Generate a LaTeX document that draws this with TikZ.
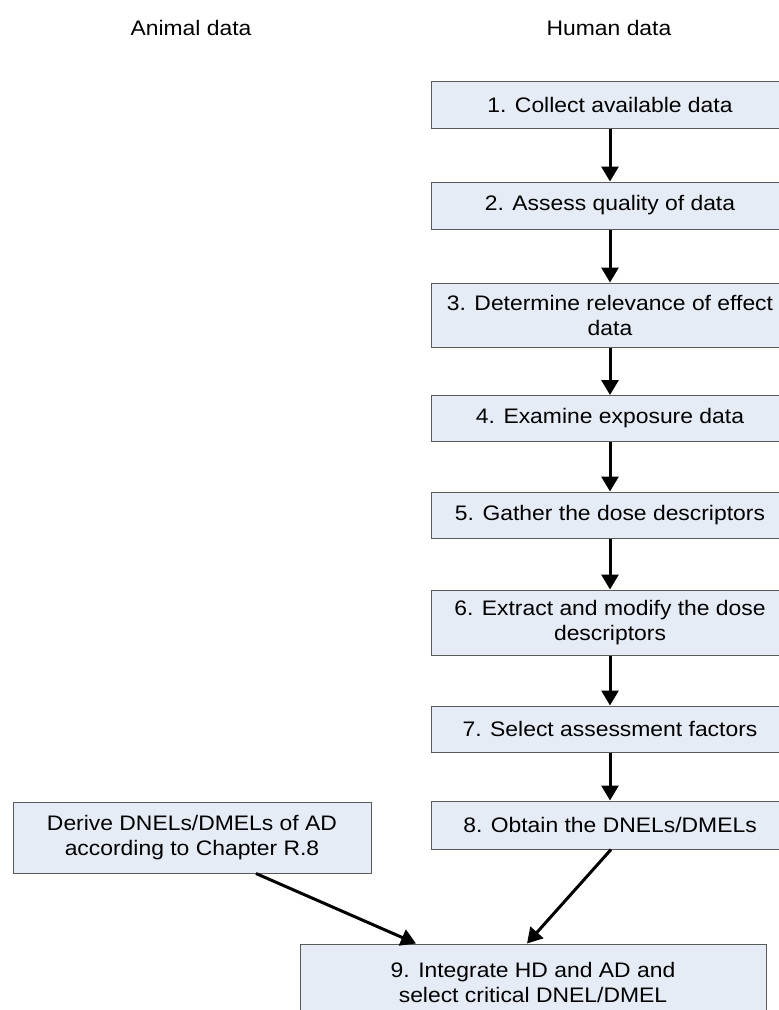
\documentclass[tikz,border=0pt]{standalone}
\usepackage{fontspec}
\setmainfont{Liberation Sans}[FakeStretch=1.09]
\usetikzlibrary{arrows.meta}
\definecolor{boxfill}{RGB}{230,236,246}
\definecolor{boxline}{RGB}{90,90,90}
\begin{document}
\begin{tikzpicture}[x=1pt,y=-1pt,
  box/.style={draw=boxline, fill=boxfill, line width=1pt, inner sep=0pt, align=center,
    font=\fontsize{21}{25}\selectfont},
  hbox/.style={box, minimum width=358pt},
  flow/.style={line width=3pt, -{Triangle[length=15pt,width=17pt]}},
  head/.style={font=\fontsize{21}{25}\selectfont}]
\useasboundingbox (0,0) rectangle (779,1010);
\fill[white] (0,0) rectangle (779,1010);
\node[head] (ha) at (191,28) {Animal data};
\node[head] (hh) at (609,28) {Human data};
\node[hbox, minimum height=47pt] (h1) at (610,105) {1. Collect available data};
\node[hbox, minimum height=47pt] (h2) at (610,205.5) {2. Assess quality of data};
\node[hbox, minimum height=64pt] (h3) at (610,315) {3. Determine relevance of effect\\data};
\node[hbox, minimum height=46pt] (h4) at (610,418.5) {4. Examine exposure data};
\node[hbox, minimum height=46pt] (h5) at (610,515) {5. Gather the dose descriptors};
\node[hbox, minimum height=65pt] (h6) at (610,622.5) {6. Extract and modify the dose\\descriptors};
\node[hbox, minimum height=46pt] (h7) at (610,729) {7. Select assessment factors};
\node[hbox, minimum height=48pt] (h8) at (610,825) {8. Obtain the DNELs/DMELs};
\node[box, minimum width=358pt, minimum height=71pt] (ad) at (192,837.5) {Derive DNELs/DMELs of AD\\according to Chapter R.8};
\node[box, minimum width=466pt, minimum height=76pt] (h9) at (533,982) {9. Integrate HD and AD and\\select critical DNEL/DMEL};
\draw[flow] (h1) -- (h2);
\draw[flow] (h2) -- (h3);
\draw[flow] (h3) -- (h4);
\draw[flow] (h4) -- (h5);
\draw[flow] (h5) -- (h6);
\draw[flow] (h6) -- (h7);
\draw[flow] (h7) -- (h8);
\draw[flow] ([xshift=64pt]ad.south) -- ([xshift=-117pt]h9.north);
\draw[flow] ([xshift=1pt]h8.south) -- ([xshift=-6pt]h9.north);
\end{tikzpicture}
\end{document}
